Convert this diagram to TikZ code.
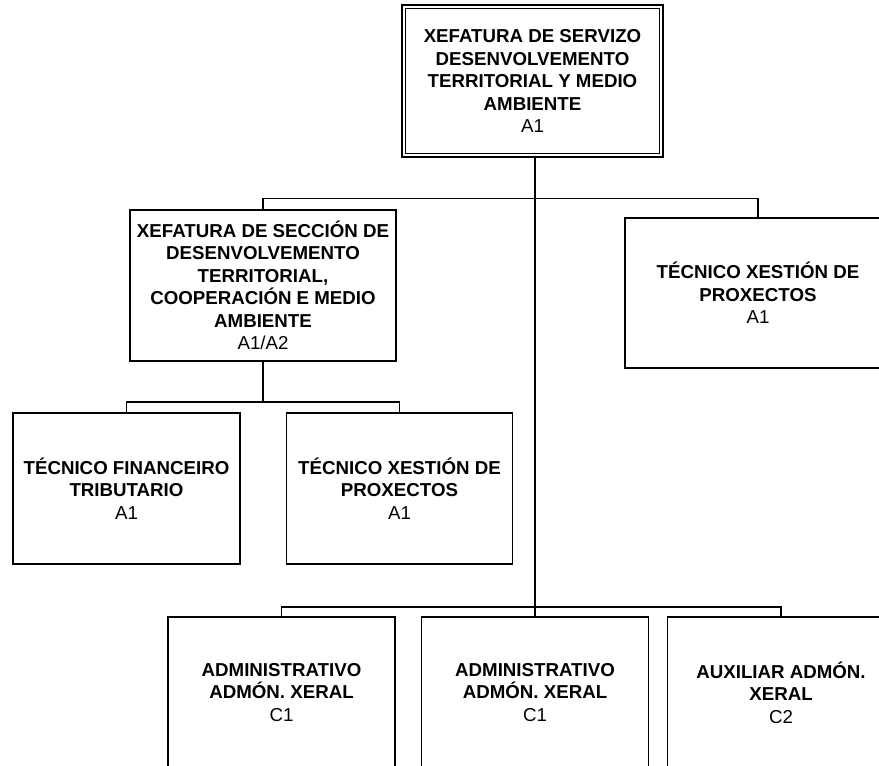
\documentclass[tikz,border=0pt]{standalone}
\usepackage{fontspec}
\setmainfont{Liberation Sans}
\begin{document}
\begin{tikzpicture}[x=1pt,y=-1pt,
  box/.style={draw, line width=1.7pt, inner sep=0pt, align=center,
    minimum height=151pt, font=\fontsize{18.7}{22.5}\selectfont},
  link/.style={line width=1.6pt},
  trunk/.style={line width=2pt}]
\fill[white] (0,0) rectangle (879,766);
\useasboundingbox (0,0) rectangle (879,766);
\clip (0,0) rectangle (879,766);

% top box (double border)
\node[box, line width=2pt, minimum width=261pt, minimum height=152pt] (top) at (532.5,81)
  {\textbf{XEFATURA DE SERVIZO}\\\textbf{DESENVOLVEMENTO}\\\textbf{TERRITORIAL Y MEDIO}\\\textbf{AMBIENTE}\\A1};
\draw[line width=1.2pt] ([shift={(4.5pt,-4.5pt)}]top.north west) rectangle ([shift={(-4.5pt,4.5pt)}]top.south east);

% second level
\node[box, minimum width=266pt] (sec) at (263,285.5)
  {\textbf{XEFATURA DE SECCIÓN DE}\\\textbf{DESENVOLVEMENTO}\\\textbf{TERRITORIAL,}\\\textbf{COOPERACIÓN E MEDIO}\\\textbf{AMBIENTE}\\A1/A2};
\node[box, minimum width=266pt, minimum height=150pt] (tp1) at (758,293)
  {\textbf{TÉCNICO XESTIÓN DE}\\\textbf{PROXECTOS}\\A1};

% under the section
\node[box, minimum width=227pt] (tf) at (126.5,488.5)
  {\textbf{TÉCNICO FINANCEIRO}\\\textbf{TRIBUTARIO}\\A1};
\node[box, minimum width=226pt] (tx) at (399.5,488.5)
  {\textbf{TÉCNICO XESTIÓN DE}\\\textbf{PROXECTOS}\\A1};

% bottom row
\node[box, minimum width=227pt] (ba) at (281.5,692.5)
  {\textbf{ADMINISTRATIVO}\\\textbf{ADMÓN. XERAL}\\C1};
\node[box, minimum width=227pt] (bb) at (535,692.5)
  {\textbf{ADMINISTRATIVO}\\\textbf{ADMÓN. XERAL}\\C1};
\node[box, minimum width=227pt] (bc) at (781,692.5)
  {\textbf{AUXILIAR ADMÓN.}\\\textbf{XERAL}\\C2};

% connectors
\coordinate (j1) at (535,198.5);
\coordinate (j2) at (263,402);
\coordinate (j3) at (535,607);
\draw[trunk] (top.south -| j3) -- (j3);
\draw[link] (sec.north) |- (j1) -| (tp1.north);
\draw[trunk] (sec.south) -- (j2);
\draw[link] (tf.north) |- (j2) -| (tx.north);
\draw[link] (ba.north) |- (j3) -| (bc.north);
\draw[link] (j3) -- (bb.north);
\end{tikzpicture}
\end{document}
